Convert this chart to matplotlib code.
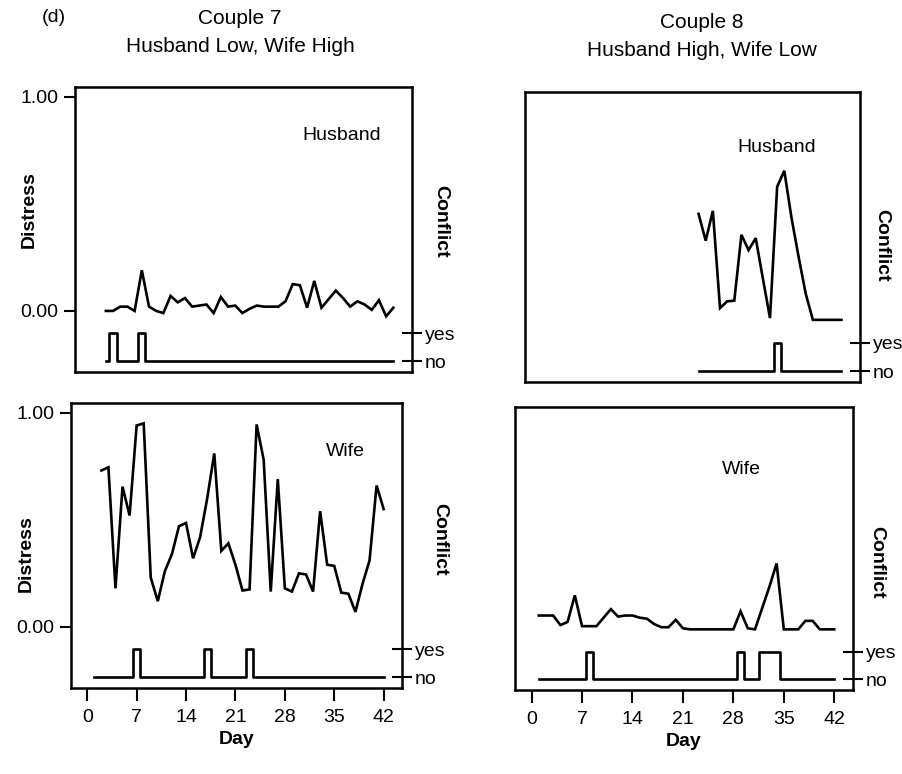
import numpy as np
import matplotlib
matplotlib.use("Agg")
import matplotlib.pyplot as plt

plt.rcParams['font.family'] = ['Liberation Sans', 'DejaVu Sans']

# ---------------- data ----------------
day_ticks = [0, 7, 14, 21, 28, 35, 42]

# Couple 7 - husband (days 2..42)
c7_h_days = list(range(2, 43))
c7_h_distress = [0.00, 0.00, 0.02, 0.02, 0.00, 0.19, 0.02, 0.00, -0.01, 0.07,
                 0.04, 0.06, 0.02, 0.025, 0.03, -0.01, 0.065, 0.02, 0.025, -0.01,
                 0.01, 0.025, 0.02, 0.02, 0.02, 0.045, 0.125, 0.12, 0.015, 0.14,
                 0.015, 0.055, 0.095, 0.06, 0.02, 0.045, 0.03, 0.005, 0.05, -0.025,
                 0.015]
c7_h_conflict_range = (2, 42)
c7_h_conflict_days = [3, 7]

# Couple 7 - wife (days 2..42)
c7_w_days = list(range(2, 43))
c7_w_distress = [0.73, 0.745, 0.18, 0.655, 0.52, 0.94, 0.95, 0.23, 0.12, 0.26,
                 0.34, 0.47, 0.485, 0.32, 0.42, 0.60, 0.81, 0.355, 0.39, 0.29,
                 0.17, 0.175, 0.945, 0.78, 0.165, 0.69, 0.18, 0.165, 0.25, 0.245,
                 0.165, 0.54, 0.29, 0.285, 0.16, 0.155, 0.07, 0.20, 0.31, 0.66,
                 0.55]
c7_w_conflict_range = (1, 42)
c7_w_conflict_days = [7, 17, 23]

# Couple 8 - husband (days 22..42)
c8_h_days = list(range(22, 43))
c8_h_distress = [0.486, 0.363, 0.50, 0.054, 0.085, 0.088, 0.39, 0.32, 0.375, 0.19,
                 0.008, 0.61, 0.684, 0.47, 0.29, 0.12, 0.0, 0.0, 0.0, 0.0, 0.0]
c8_h_conflict_range = (22, 42)
c8_h_conflict_days = [33]

# Couple 8 - wife (days 1..42)
c8_w_days = list(range(1, 43))
c8_w_distress = [0.065, 0.065, 0.065, 0.02, 0.035, 0.16, 0.015, 0.015, 0.015, 0.055,
                 0.095, 0.06, 0.065, 0.065, 0.055, 0.05, 0.025, 0.01, 0.01, 0.045,
                 0.005, 0.0, 0.0, 0.0, 0.0, 0.0, 0.0, 0.0, 0.085, 0.005,
                 0.0, 0.10, 0.20, 0.31, 0.0, 0.0, 0.0, 0.04, 0.04, 0.0,
                 0.0, 0.0]
c8_w_conflict_range = (1, 42)
c8_w_conflict_days = [8, 29, 32, 33, 34]

# ---------------- layout ----------------
W, H = 903, 774
fig = plt.figure(figsize=(W / 100, H / 100), dpi=100)

def box(x0, y0, x1, y1):
    return [x0 / W, 1 - y1 / H, (x1 - x0) / W, (y1 - y0) / H]

NO, YES = -0.235, -0.105
YLIM = (-0.285, 1.045)
XLIM = (-2.3, 44.6)
LW = 1.9

panels = [
    dict(rect=box(75, 87, 412, 372), days=c7_h_days, d=c7_h_distress,
         crange=c7_h_conflict_range, cdays=c7_h_conflict_days, who='Husband',
         who_xy=(0.79, 0.83), left=True, bottom=False, conf_xy=(1.085, 0.53)),
    dict(rect=box(71, 403, 402, 688), days=c7_w_days, d=c7_w_distress,
         crange=c7_w_conflict_range, cdays=c7_w_conflict_days, who='Wife',
         who_xy=(0.83, 0.83), left=True, bottom=True, conf_xy=(1.115, 0.52)),
    dict(rect=box(525, 92, 860, 382), days=c8_h_days, d=c8_h_distress,
         crange=c8_h_conflict_range, cdays=c8_h_conflict_days, who='Husband',
         who_xy=(0.75, 0.81), left=False, bottom=False, conf_xy=(1.065, 0.47)),
    dict(rect=box(515, 407, 853, 690), days=c8_w_days, d=c8_w_distress,
         crange=c8_w_conflict_range, cdays=c8_w_conflict_days, who='Wife',
         who_xy=(0.67, 0.78), left=False, bottom=True, conf_xy=(1.07, 0.45)),
]

for p in panels:
    ax = fig.add_axes(p['rect'])
    ax.set_xlim(*XLIM)
    ax.set_ylim(*YLIM)
    ax.plot(p['days'], p['d'], color='black', lw=LW, solid_joinstyle='miter')
    cd = np.arange(p['crange'][0], p['crange'][1] + 1)
    cv = np.where(np.isin(cd, p['cdays']), YES, NO)
    ax.plot(cd, cv, color='black', lw=LW, drawstyle='steps-mid')
    for s in ax.spines.values():
        s.set_linewidth(1.8)
    ax.text(*p['who_xy'], p['who'], transform=ax.transAxes, fontsize=14,
            ha='center', va='center')
    # left axis
    if p['left']:
        ax.set_yticks([0.0, 1.0])
        ax.set_yticklabels(['0.00', '1.00'], fontsize=14)
        ax.tick_params(axis='y', left=True, length=8, width=1.5, pad=4)
        ax.text(-0.135, 0.57 if p['who'] == 'Husband' else 0.47, 'Distress',
                rotation=90, transform=ax.transAxes, fontsize=14,
                fontweight='bold', ha='center', va='center')
    else:
        ax.set_yticks([])
    # bottom axis
    if p['bottom']:
        ax.set_xticks(day_ticks)
        ax.set_xticklabels([str(t) for t in day_ticks], fontsize=14)
        ax.tick_params(axis='x', length=9, width=1.5, pad=6)
        ax.set_xlabel('Day', fontsize=14, fontweight='bold', labelpad=4)
    else:
        ax.set_xticks([])
    # right conflict axis
    ax2 = ax.twinx()
    ax2.set_ylim(*YLIM)
    ax2.set_yticks([NO, YES])
    ax2.set_yticklabels(['no', 'yes'], fontsize=14)
    ax2.tick_params(axis='y', direction='inout', length=14, width=1.5, pad=2)
    for s in ax2.spines.values():
        s.set_visible(False)
    ax.text(*p['conf_xy'], 'Conflict', rotation=270, transform=ax.transAxes,
            fontsize=14, fontweight='bold', ha='center', va='center')

# titles
fig.text(42 / W, 1 - 18 / H, '(d)', fontsize=14, ha='left', va='center')
fig.text(240 / W, 1 - 18 / H, 'Couple 7', fontsize=15, ha='center', va='center')
fig.text(240 / W, 1 - 46 / H, 'Husband Low, Wife High', fontsize=15,
         ha='center', va='center')
fig.text(702 / W, 1 - 22 / H, 'Couple 8', fontsize=15, ha='center', va='center')
fig.text(702 / W, 1 - 51 / H, 'Husband High, Wife Low', fontsize=15,
         ha='center', va='center')

fig.savefig('out.png', dpi=100)
